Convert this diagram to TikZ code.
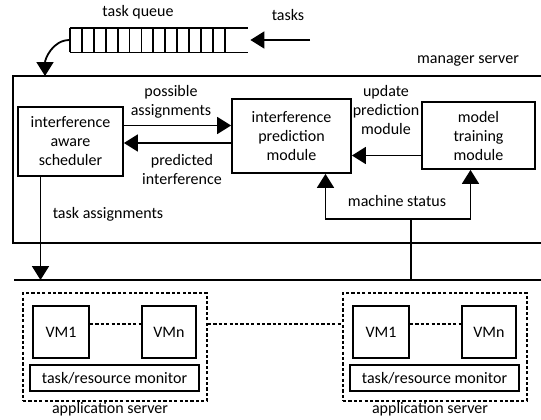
\documentclass[tikz,border=0pt]{standalone}
\usepackage{fontspec}
\setmainfont{Carlito}
\usepackage{tikz}
\usetikzlibrary{arrows.meta}
\usetikzlibrary{positioning}
\tikzstyle{box} = [rectangle, draw=black, line width=0.9pt, align=center, inner sep=1pt]
\tikzstyle{arrow} = [line width=0.9pt,-{Triangle[length=7pt,width=8.5pt]}]
\tikzstyle{lbl} = [align=center, inner sep=0pt]
\tikzstyle{dotline} = [line width=0.9pt, dash pattern=on 1.6pt off 1.1pt]

\begin{document}
\begin{tikzpicture}[x=0.5pt,y=0.5pt,font=\fontsize{8}{9.5}\selectfont]
                            \useasboundingbox (0,0) rectangle (541,-419);
                            % task queue
                            \node (queue) [minimum width=89pt, minimum height=12pt, inner sep=0pt] at (159,-40) {};
                            \draw [line width=0.9pt] (queue.north west) -- (queue.north east);
                            \draw [line width=0.9pt] (queue.south west) -- (queue.south east);
                            \foreach \i in {0,...,13}
                                \draw [line width=0.9pt] (70+\i*11.9,-28) -- (70+\i*11.9,-52);
                            \node (queuelbl) at (138,-12) {task queue};
                            \node (taskslbl) at (288,-15) {tasks};
                            \coordinate (tasksin) at (310,-40);
                            \draw [arrow] (tasksin) -- ([xshift=1pt]queue.east);
                            % manager server
                            \node (mgrlbl) at (468,-61) {manager server};
                            \draw [line width=0.9pt] (541,-76) -- (13,-76) -- (13,-243) -- (541,-243);
                            \coordinate (mgrin) at (45,-76);
                            \draw [arrow] (queue.west) to[out=180,in=90] (mgrin);
                            \node (sched) [box, minimum width=52.5pt, minimum height=34.5pt] at (70.5,-141.5) {interference\\aware\\scheduler};
                            \node (pred) [box, minimum width=59.5pt, minimum height=37pt] at (291.5,-136) {interference\\prediction\\module};
                            \node (model) [box, minimum width=56.5pt, minimum height=33.5pt] at (478.5,-135.5) {model\\training\\module};
                            \node (possible) [lbl] at (171,-101.5) {possible\\assignments};
                            \node (predicted) [lbl] at (182,-169) {predicted\\interference};
                            \node (update) [lbl] at (386,-110) {update\\prediction\\module};
                            \node (tasklbl) at (108,-214) {task assignments};
                            \node (statuslbl) at (397,-201) {machine status};
                            \draw [arrow] ([yshift=8pt]sched.east) -- ([yshift=8pt]sched.east -| pred.west);
                            \draw [arrow] ([yshift=-3.5pt]pred.west) -- ([yshift=-3.5pt]pred.west -| sched.east);
                            \draw [arrow] ([yshift=-10pt]model.west) -- ([yshift=-10pt]model.west -| pred.east);
                            % bus to the application servers
                            \coordinate (busL) at (14,-280);
                            \coordinate (busR) at (541,-280);
                            \draw [line width=0.9pt] (busL) -- (busR);
                            \draw [arrow] ([xshift=-15pt]sched.south) -- ([xshift=-15pt]sched.south |- busL);
                            \coordinate (status) at (411,-280);
                            \coordinate (split) at (411,-219);
                            \draw [line width=0.9pt] (status) -- (split);
                            \draw [arrow] (split) -| ([xshift=17pt]pred.south);
                            \draw [arrow] (split) -| ([xshift=-4pt]model.south);
                            % application servers
                            \foreach \x/\s in {0/a,320/b} {
                                \node (app\s) [draw, dotline, minimum width=92pt, minimum height=54pt] at (115+\x,-347) {};
                                \node (vmone\s) [box, minimum width=28pt, minimum height=26pt] at (61+\x,-332) {VM1};
                                \node (vmn\s) [box, minimum width=27pt, minimum height=26pt] at (169+\x,-332) {VMn};
                                \node (mon\s) [box, minimum width=84.5pt, minimum height=13pt] at (114.5+\x,-378) {task/resource monitor};
                                \node (applbl\s) at (110+\x,-409) {application server};
                                \draw [dotline] ([yshift=4pt]vmone\s.east) -- ([yshift=4pt]vmone\s.east -| vmn\s.west);
                            }
                            \draw [dotline] ([yshift=11.5pt]appa.east) -- ([yshift=11.5pt]appa.east -| appb.west);
                        \end{tikzpicture}
\end{document}
